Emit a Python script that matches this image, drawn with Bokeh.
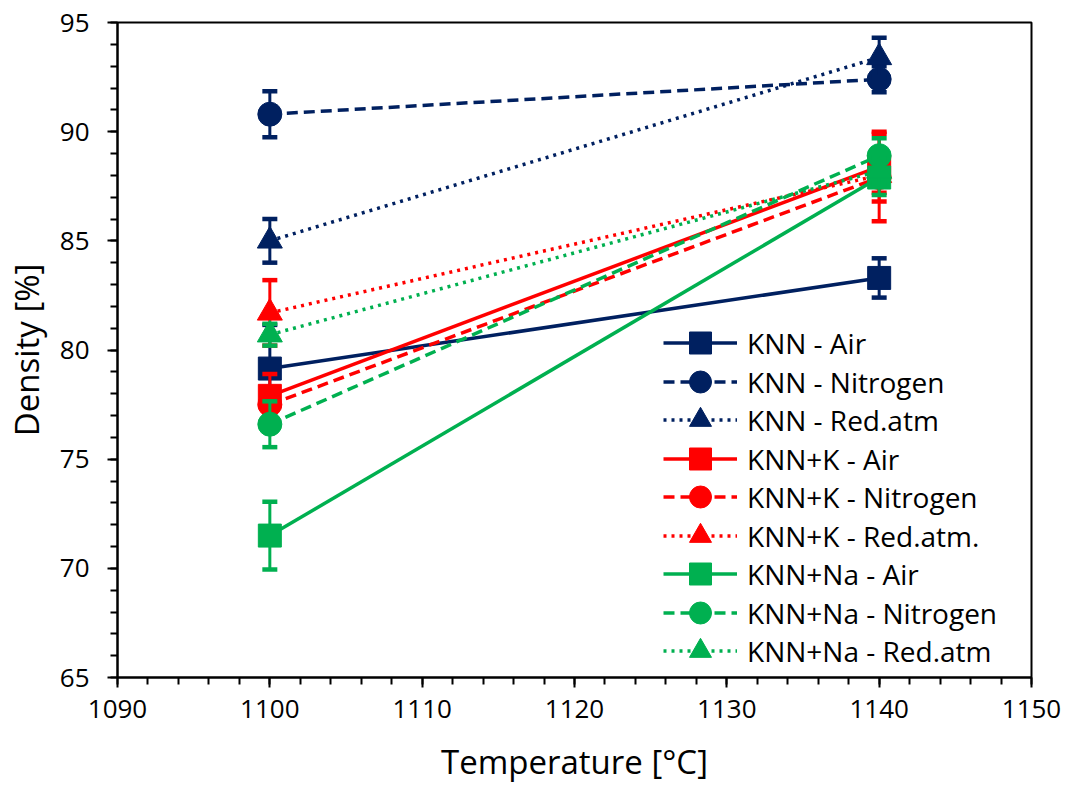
from bokeh.plotting import figure
from bokeh.models import Range1d, SingleIntervalTicker, Legend, LegendItem
from bokeh.embed import file_html
from bokeh.resources import INLINE

# ---- data ----
temps = [1100, 1140]

knn_air = [79.15, 83.3]
knn_air_err = [2.0, 0.9]
knn_n2 = [90.8, 92.4]
knn_n2_err = [1.05, 0.6]
knn_red = [85.0, 93.4]
knn_red_err = [1.0, 0.9]

knnk_air = [77.9, 88.4]
knnk_air_err = [1.0, 1.6]
knnk_n2 = [77.5, 87.9]
knnk_n2_err = [0.8, 2.0]
knnk_red = [81.7, 88.0]
knnk_red_err = [1.5, 0.8]

knnna_air = [71.5, 87.9]
knnna_air_err = [1.55, 0.8]
knnna_n2 = [76.6, 88.9]
knnna_n2_err = [1.05, 0.8]
knnna_red = [80.7, 88.2]
knnna_red_err = [0.5, 0.6]

labels = ["KNN - Air", "KNN - Nitrogen", "KNN - Red.atm",
          "KNN+K - Air", "KNN+K - Nitrogen", "KNN+K - Red.atm.",
          "KNN+Na - Air", "KNN+Na - Nitrogen", "KNN+Na - Red.atm"]

# ---- styles ----
NAVY = "#002060"
RED = "#FF0000"
GREEN = "#00B050"
FONT = "Open Sans"

series = [
    (knn_air, knn_air_err, NAVY, "solid", "square"),
    (knn_n2, knn_n2_err, NAVY, "dashed", "circle"),
    (knn_red, knn_red_err, NAVY, "dotted", "triangle"),
    (knnk_air, knnk_air_err, RED, "solid", "square"),
    (knnk_n2, knnk_n2_err, RED, "dashed", "circle"),
    (knnk_red, knnk_red_err, RED, "dotted", "triangle"),
    (knnna_air, knnna_air_err, GREEN, "solid", "square"),
    (knnna_n2, knnna_n2_err, GREEN, "dashed", "circle"),
    (knnna_red, knnna_red_err, GREEN, "dotted", "triangle"),
]
dash_map = {"solid": "solid", "dashed": "11 6", "dotted": "3 5"}
size_map = {"square": 23, "circle": 24, "triangle": 25}

p = figure(width=1070, height=787,
           x_range=Range1d(1090, 1150), y_range=Range1d(65, 95),
           output_backend="svg", toolbar_location=None,
           min_border_left=117, min_border_right=39,
           min_border_top=22, min_border_bottom=110)

p.xgrid.visible = False
p.ygrid.visible = False
p.outline_line_color = "black"
p.outline_line_width = 2
p.outline_line_alpha = 1
p.background_fill_color = "white"
p.border_fill_color = "white"

p.xaxis.ticker = SingleIntervalTicker(interval=10, num_minor_ticks=5)
p.yaxis.ticker = SingleIntervalTicker(interval=5, num_minor_ticks=5)

for ax in (p.xaxis, p.yaxis):
    ax.axis_line_width = 2
    ax.axis_line_color = "black"
    ax.major_tick_line_width = 2
    ax.minor_tick_line_width = 2
    ax.major_tick_line_color = "black"
    ax.minor_tick_line_color = "black"
    ax.major_tick_in = 0
    ax.major_tick_out = 10
    ax.minor_tick_in = 0
    ax.minor_tick_out = 7
    ax.major_label_text_font = FONT
    ax.major_label_text_font_size = "26px"
    ax.major_label_text_color = "black"
    ax.axis_label_text_font = FONT
    ax.axis_label_text_font_size = "33px"
    ax.axis_label_text_font_style = "normal"
    ax.axis_label_text_color = "black"

p.xaxis.axis_label = "Temperature [°C]"
p.yaxis.axis_label = "Density [%]"
p.xaxis.major_label_standoff = 12
p.xaxis.axis_label_standoff = 18
p.yaxis.major_label_standoff = 18
p.yaxis.axis_label_standoff = 8

items = []
for (vals, errs, col, dash, mk), lab in zip(series, labels):
    lo = [v - e for v, e in zip(vals, errs)]
    hi = [v + e for v, e in zip(vals, errs)]
    r_line = p.line(temps, vals, line_color=col, line_width=3.5,
                    line_dash=dash_map[dash])
    p.segment(x0=temps, y0=lo, x1=temps, y1=hi, line_color=col, line_width=3)
    p.scatter(temps, lo, marker="dash", size=15, line_color=col, line_width=4.5)
    p.scatter(temps, hi, marker="dash", size=15, line_color=col, line_width=4.5)
    r_mk = p.scatter(temps, vals, marker=mk, size=size_map[mk],
                     fill_color=col, line_color=col, line_width=1)
    items.append(LegendItem(label=lab, renderers=[r_line, r_mk]))

# Two interleaved legends so markers can be large while rows stay close.
common = dict(glyph_width=74, glyph_height=55, spacing=22,
              label_standoff=10, padding=0, margin=0,
              border_line_alpha=0, background_fill_alpha=0,
              label_text_font=FONT, label_text_font_size="28px",
              label_text_color="black", label_height=20)
legend_a = Legend(items=items[0::2], location=(546, -1), **common)
legend_b = Legend(items=items[1::2], location=(546, 37), **common)
p.add_layout(legend_a)
p.add_layout(legend_b)

open("out.html", "w").write(file_html(p, INLINE))
